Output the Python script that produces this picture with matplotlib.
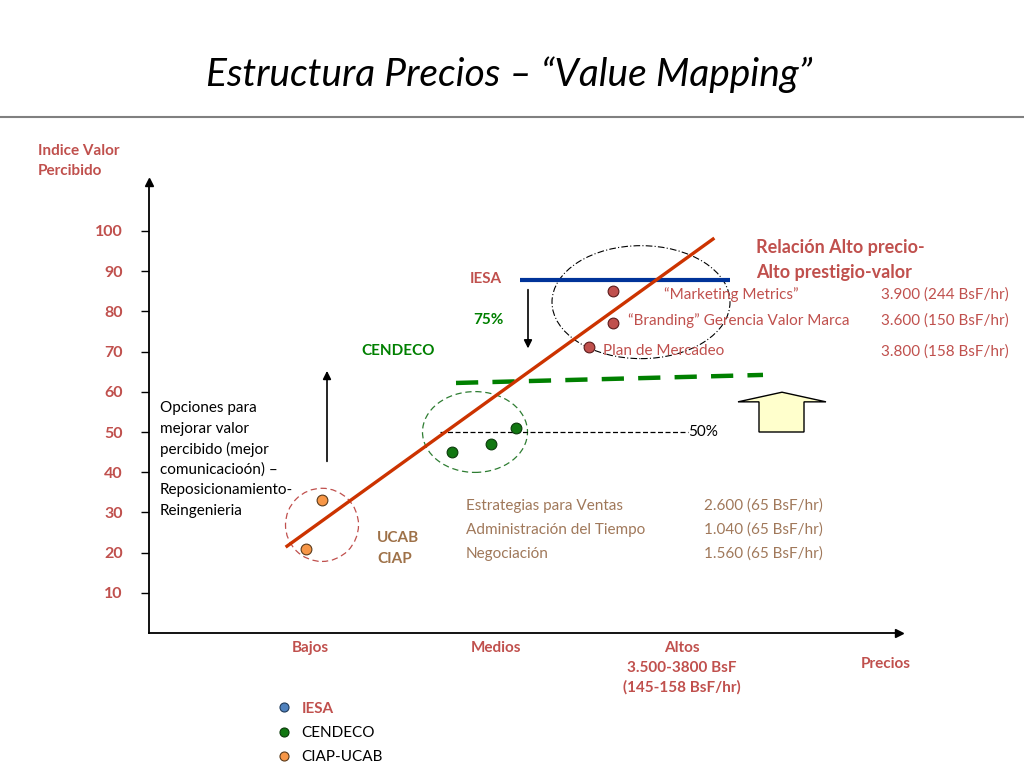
import matplotlib
matplotlib.use("Agg")
import matplotlib.pyplot as plt
from matplotlib.patches import Ellipse, Polygon
from matplotlib.lines import Line2D

plt.rcParams['font.family'] = ['Lato', 'DejaVu Sans']

# ---------------- data ----------------
y_ticks = [10, 20, 30, 40, 50, 60, 70, 80, 90, 100]
price_levels = ["Bajos", "Medios", "Altos\n3.500-3800 BsF\n(145-158 BsF/hr)"]
price_level_x = [1.61, 3.47, 5.33]

ciap_x = [1.57, 1.73]
ciap_y = [20.9, 33.1]
cendeco_x = [3.03, 3.42, 3.67]
cendeco_y = [45.0, 47.0, 51.0]
iesa_x = [4.64, 4.64, 4.40]
iesa_y = [85.1, 77.1, 71.1]

trend_x = [1.38, 5.64]
trend_y = [21.6, 98.0]
iesa_level_x = [3.71, 5.81]
iesa_level_y = [87.8, 87.8]
cendeco_level_x = [3.07, 6.14]
cendeco_level_y = [62.2, 64.2]
half_x = [2.91, 5.39]
half_y = [50.0, 50.0]

iesa_courses = ["\u201cMarketing Metrics\u201d", "\u201cBranding\u201d Gerencia Valor Marca", "Plan de Mercadeo"]
iesa_prices = ["3.900 (244 BsF/hr)", "3.600 (150 BsF/hr)", "3.800 (158 BsF/hr)"]
ciap_courses = ["Estrategias para Ventas", "Administraci\u00f3n del Tiempo", "Negociaci\u00f3n"]
ciap_prices = ["2.600 (65 BsF/hr)", "1.040 (65 BsF/hr)", "1.560 (65 BsF/hr)"]

legend_labels = ["IESA", "CENDECO", "CIAP-UCAB"]

# ---------------- colours ----------------
RED = '#C0504D'
BROWN = '#A0785A'
UBROWN = '#9E7148'
GREEN = '#008000'
FS = 11

W, H = 1024, 768
fig = plt.figure(figsize=(W / 100, H / 100), dpi=100)

def P(x, y):
    return x / W, 1 - y / H

# axes box: x from 149 px to 899 px, y from 633 px (0) to 182 px
ax = fig.add_axes([149 / W, (H - 633) / H, 750 / W, (633 - 182) / H])
ax.set_xlim(0, 7.5)
ax.set_ylim(0, (633 - 182) / 4.02)
for s in ['top', 'right']:
    ax.spines[s].set_visible(False)
for s in ['left', 'bottom']:
    ax.spines[s].set_linewidth(1.3)
    ax.spines[s].set_color('black')
ax.set_xticks([])
ax.set_yticks(y_ticks)
ax.set_yticklabels([str(v) for v in y_ticks])
ax.tick_params(axis='y', direction='out', length=6, width=1, pad=13,
               labelsize=11.5, labelcolor=RED)
for lab in ax.get_yticklabels():
    lab.set_fontweight('bold')
ax.patch.set_alpha(0)

# axis arrowheads
ax.plot([0], [ax.get_ylim()[1]], marker='^', color='black', markersize=6, clip_on=False)
ax.plot([ax.get_xlim()[1]], [0], marker='>', color='black', markersize=6, clip_on=False)

# ellipses
ax.add_patch(Ellipse((1.73, 26.9), 0.73, 18.2, fill=False, ec='#C0504D',
                     ls=(0, (5, 3)), lw=0.9))
ax.add_patch(Ellipse((3.26, 50.0), 1.05, 20.1, fill=False, ec='#2E7D32',
                     ls=(0, (5, 3)), lw=0.9))
ax.add_patch(Ellipse((4.92, 82.3), 1.78, 28.1, fill=False, ec='black',
                     ls=(0, (6, 2, 1, 2)), lw=0.8))

# lines
ax.plot(half_x, half_y, color='black', ls=(0, (4, 2)), lw=0.9)
ax.plot(cendeco_level_x, cendeco_level_y, color=GREEN, lw=3.2, ls=(0, (5, 3.2)))
ax.plot(iesa_level_x, iesa_level_y, color='#003399', lw=3.0, solid_capstyle='butt')
ax.plot(trend_x, trend_y, color='#CC3300', lw=2.4)

# points
ax.scatter(ciap_x, ciap_y, s=60, c='#F79646', edgecolors='#5a3a1a', linewidths=0.8, zorder=5)
ax.scatter(cendeco_x, cendeco_y, s=60, c='#117711', edgecolors='#0a3a0a', linewidths=0.8, zorder=5)
ax.scatter(iesa_x, iesa_y, s=60, c='#C0504D', edgecolors='#5a1a1a', linewidths=0.8, zorder=5)

# arrows
ax.annotate('', xy=(1.78, 65.9), xytext=(1.78, 42.0),
            arrowprops=dict(arrowstyle='-|>', color='black', lw=1.2, mutation_scale=12))
ax.annotate('', xy=(3.79, 70.1), xytext=(3.79, 86.1),
            arrowprops=dict(arrowstyle='-|>', color='black', lw=1.2, mutation_scale=12))

# yellow block arrow
ax.add_patch(Polygon([(6.33, 59.9), (6.77, 57.5), (6.55, 57.5), (6.55, 50.0),
                      (6.10, 50.0), (6.10, 57.5), (5.89, 57.5)], closed=True,
                     fc='#FFFFCC', ec='black', lw=1.0, zorder=4))

# ---------------- texts ----------------
fig.text(*P(509, 75), "Estructura Precios \u2013 \u201cValue Mapping\u201d", ha='center', va='center',
         fontsize=28, style='italic')
fig.add_artist(Line2D([0, 1], [1 - 117 / H, 1 - 117 / H], color='#808080', lw=1.5))

fig.text(*P(38, 151), "Indice Valor", color=RED, fontweight='bold', fontsize=FS, va='center')
fig.text(*P(38, 171), "Percibido", color=RED, fontweight='bold', fontsize=FS, va='center')

for lab, xv in zip(price_levels, price_level_x):
    ax.text(xv, -2.0, lab, ha='center', va='top', color=RED, fontweight='bold',
            fontsize=FS, linespacing=1.5)
fig.text(*P(886, 664), "Precios", ha='center', va='center', color=RED,
         fontweight='bold', fontsize=FS)

fig.text(*P(486, 279), "IESA", ha='center', va='center', color=RED, fontweight='bold', fontsize=FS)
fig.text(*P(488, 320), "75%", ha='center', va='center', color=GREEN, fontweight='bold', fontsize=FS)
fig.text(*P(361, 351), "CENDECO", ha='left', va='center', color=GREEN, fontweight='bold', fontsize=FS)
fig.text(*P(377, 538), "UCAB", ha='left', va='center', color=UBROWN, fontweight='bold', fontsize=FS)
fig.text(*P(377, 559), "CIAP", ha='left', va='center', color=UBROWN, fontweight='bold', fontsize=FS)

opciones = ["Opciones para", "mejorar valor", "percibido (mejor",
            "comunicacio\u00f3n) \u2013", "Reposicionamiento-", "Reingenieria"]
for i, line in enumerate(opciones):
    fig.text(*P(160, 408 + i * 20.6), line, ha='left', va='center', fontsize=FS)

fig.text(*P(756, 248), "Relaci\u00f3n Alto precio-", ha='left', va='center', color=RED,
         fontweight='bold', fontsize=13)
fig.text(*P(756, 272), "Alto prestigio-valor", ha='left', va='center', color=RED,
         fontweight='bold', fontsize=13)

for lab, xp, yp in zip(iesa_courses, [664, 628, 603], [295, 321, 351]):
    fig.text(*P(xp, yp), lab, ha='left', va='center', color=RED, fontsize=FS)
for lab, yp in zip(iesa_prices, [295, 321, 352]):
    fig.text(*P(881, yp), lab, ha='left', va='center', color=RED, fontsize=FS)

fig.text(*P(688, 432), "50%", ha='left', va='center', fontsize=FS)

for lab, yp in zip(ciap_courses, [506, 530, 554]):
    fig.text(*P(466, yp), lab, ha='left', va='center', color=BROWN, fontsize=FS)
for lab, yp in zip(ciap_prices, [506, 530, 554]):
    fig.text(*P(704, yp), lab, ha='left', va='center', color=BROWN, fontsize=FS)

# legend
handles = [Line2D([], [], ls='none', marker='o', markersize=6.5, mfc=c, mec=e, mew=0.8)
           for c, e in [('#4F81BD', '#1f3a5a'), ('#117711', '#0a3a0a'), ('#F79646', '#5a3a1a')]]
leg = fig.legend(handles, legend_labels, loc='upper left', bbox_to_anchor=P(270, 694),
                 frameon=False, handlelength=0.8, handletextpad=0.75, labelspacing=0.68,
                 fontsize=FS, borderpad=0)
for t, c, w in zip(leg.get_texts(), [RED, 'black', 'black'], ['bold', 'normal', 'normal']):
    t.set_color(c)
    t.set_fontweight(w)

fig.savefig("out.png", dpi=100)
